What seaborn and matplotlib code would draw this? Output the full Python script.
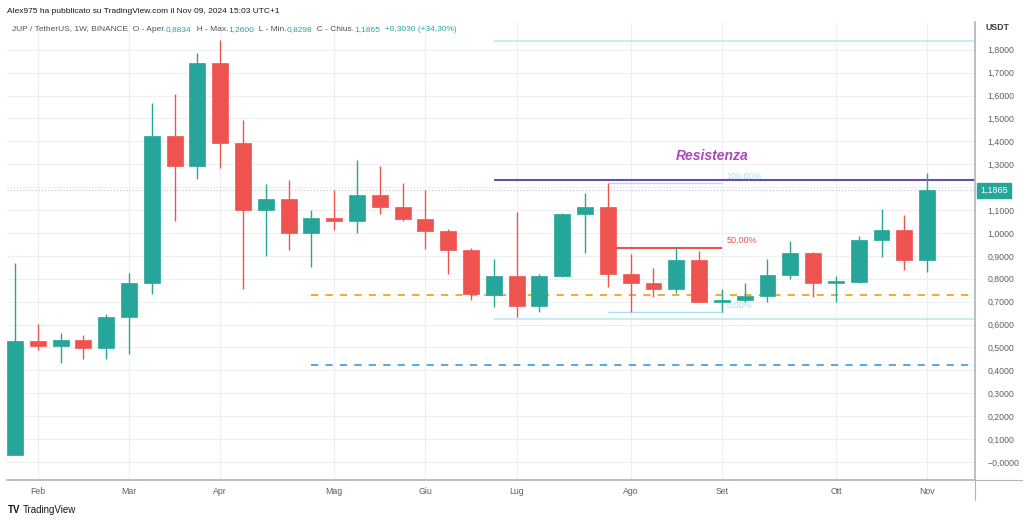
import matplotlib
matplotlib.use("Agg")
import matplotlib.pyplot as plt
import matplotlib.dates as mdates
from matplotlib.lines import Line2D
import numpy as np
import pandas as pd
import seaborn as sns

# weekly JUP/USDT candles
week_start = "2024-01-29"
opens = [0.032, 0.528, 0.505, 0.534, 0.498, 0.632, 0.782, 1.425, 1.293, 1.741,
         1.393, 1.099, 1.150, 1.000, 1.066, 1.054, 1.167, 1.114, 1.063, 1.010,
         0.926, 0.729, 0.812, 0.683, 0.812, 1.081, 1.112, 0.820, 0.780, 0.755,
         0.882, 0.699, 0.706, 0.725, 0.817, 0.911, 0.783, 0.787, 0.969, 1.012,
         0.8834]
highs = [0.869, 0.604, 0.565, 0.556, 0.646, 0.825, 1.568, 1.608, 1.787, 1.844,
         1.491, 1.215, 1.229, 1.099, 1.186, 1.320, 1.291, 1.220, 1.186, 1.016,
         0.936, 0.888, 1.090, 0.819, 1.089, 1.176, 1.217, 0.908, 0.846, 0.937,
         0.923, 0.755, 0.783, 0.888, 0.966, 0.917, 0.812, 0.987, 1.106, 1.077,
         1.2600]
lows = [0.032, 0.488, 0.432, 0.451, 0.451, 0.470, 0.735, 1.051, 1.237, 1.284,
        0.754, 0.898, 0.924, 0.850, 1.012, 1.000, 1.082, 1.052, 0.929, 0.820,
        0.706, 0.676, 0.634, 0.654, 0.806, 0.914, 0.763, 0.654, 0.719, 0.736,
        0.697, 0.655, 0.700, 0.700, 0.798, 0.719, 0.700, 0.783, 0.894, 0.838,
        0.8298]
closes = [0.528, 0.505, 0.534, 0.498, 0.632, 0.782, 1.425, 1.293, 1.741, 1.393,
          1.099, 1.150, 1.000, 1.066, 1.054, 1.167, 1.114, 1.063, 1.010, 0.926,
          0.735, 0.812, 0.683, 0.812, 1.081, 1.112, 0.820, 0.780, 0.755, 0.882,
          0.699, 0.706, 0.725, 0.817, 0.911, 0.783, 0.792, 0.969, 1.012, 0.8834,
          1.1865]

month_ticks = ["2024-02-05", "2024-03-04", "2024-04-01", "2024-05-06", "2024-06-03",
               "2024-07-01", "2024-08-05", "2024-09-02", "2024-10-07", "2024-11-04"]
month_labels = ["Feb", "Mar", "Apr", "Mag", "Giu", "Lug", "Ago", "Set", "Ott", "Nov"]
price_ticks = [round(0.1 * k, 1) for k in range(19)]

# drawn levels
resistance = 1.231
support_orange = 0.729
support_blue = 0.424
cyan_top = 1.840
cyan_low = 0.624
fib_levels = [1.217, 0.936, 0.654]
fib_labels = ["100,00%", "50,00%", "0,00%"]
last_price = 1.1865

GREEN = "#26a69a"
RED = "#ef5350"

sns.set_theme(style="white")
plt.rcParams["font.family"] = ["Liberation Sans", "DejaVu Sans"]

df = pd.DataFrame({"date": pd.date_range(week_start, periods=len(opens), freq="7D"),
                   "open": opens, "high": highs, "low": lows, "close": closes})
df["x"] = mdates.date2num(df["date"])
df["up"] = df["close"] >= df["open"]
df["color"] = np.where(df["up"], GREEN, RED)

fig = plt.figure(figsize=(10.24, 5.22), dpi=100)
ax = fig.add_axes([7 / 1024, 1 - 480 / 522, (975 - 7) / 1024, (480 - 22) / 522])

x0 = df["x"].iloc[0]
ax.set_xlim(x0 - 2.46, x0 + 294.7)
ax.set_ylim(-0.0786, 1.921)

# grid
for t in price_ticks:
    ax.axhline(t, color="#efefef", lw=0.8, zorder=0)
for m in month_ticks:
    ax.axvline(mdates.datestr2num(m), color="#efefef", lw=0.8, zorder=0)

# last price dotted line
ax.axhline(last_price, color="#c9ccd3", lw=0.9, ls=(0, (1, 1.5)), zorder=1)

# candles
ax.vlines(df["x"], df["low"], df["high"], colors=df["color"], lw=1.0, zorder=3)
body = (df["close"] - df["open"]).abs().clip(lower=0.006)
ax.bar(df["x"], body, bottom=np.minimum(df["open"], df["close"]), width=4.9,
       color=df["color"], edgecolor=df["color"], lw=0.5, zorder=4)

d = lambda s: mdates.datestr2num(s)
x_end = ax.get_xlim()[1]
# support/resistance levels
ax.hlines(support_orange, d("2024-04-29"), x_end, colors="#f7a21b", lw=1.3,
          linestyles=(0, (4, 4)), zorder=2)
ax.hlines(support_blue, d("2024-04-29"), x_end, colors="#4a9fe0", lw=1.3,
          linestyles=(0, (4, 4)), zorder=2)
ax.hlines(resistance, d("2024-06-24"), x_end, colors="#6a4caf", lw=1.5, zorder=2)
ax.hlines([cyan_top, cyan_low], d("2024-06-24"), x_end, colors="#bfe9ef", lw=1.2, zorder=2)
ax.text(d("2024-09-02") - 3, 1.336, "Resistenza", color="#ab47bc", fontsize=10,
        fontweight="bold", fontstyle="italic", ha="center", va="center")

# fib retracement
fib_colors = ["#a6e3ec", RED, "#a6e3ec"]
for lvl, lab, col in zip(fib_levels, fib_labels, fib_colors):
    ax.hlines(lvl, d("2024-07-29"), d("2024-09-02"), colors=col,
              lw=1.5 if col == RED else 1.0, zorder=2)
    ax.text(d("2024-09-02") + 1.5, lvl + 0.03, lab, color=col, fontsize=6.5,
            ha="left", va="center", zorder=1)
ax.vlines(d("2024-09-02"), fib_levels[2], 0.751, colors="#a6e3ec", lw=1.0, zorder=2)

# axes styling
for s in ["top", "left"]:
    ax.spines[s].set_visible(False)
ax.spines["right"].set_color("#b2b5be")
ax.spines["bottom"].set_color("#b2b5be")
ax.yaxis.tick_right()
ax.set_yticks(price_ticks)
ylabels = ["−0,0000" if t == 0 else f"{t:.4f}".replace(".", ",") for t in price_ticks]
ylabels[12] = ""  # hidden behind the last price tag
ax.set_yticklabels(ylabels)
ax.set_xticks([d(m) for m in month_ticks])
ax.set_xticklabels(month_labels)
ax.tick_params(axis="y", length=0, pad=9, labelsize=6.3, labelcolor="#5d606b")
ax.tick_params(axis="x", length=0, pad=5, labelsize=6.3, labelcolor="#5d606b")

# extended axis lines
fig.add_artist(Line2D([975 / 1024, 975 / 1024], [1 - 500 / 522, 1 - 480 / 522],
                      color="#b2b5be", lw=0.8))
fig.add_artist(Line2D([975 / 1024, 1022 / 1024], [1 - 480 / 522, 1 - 480 / 522],
                      color="#b2b5be", lw=0.8))

# price tag
ax.annotate("1,1865", xy=(1.0, last_price), xycoords=("axes fraction", "data"),
            xytext=(4, 0), textcoords="offset points", color="white", fontsize=6.5,
            va="center", ha="left",
            bbox=dict(boxstyle="square,pad=0.35", fc=GREEN, ec=GREEN))
fig.text(985 / 1024, 1 - 28 / 522, "USDT", fontsize=6.3, color="#3a3d46",
         fontweight="bold", va="center")

# header
fig.text(7 / 1024, 1 - 13 / 522, "Alex975 ha pubblicato su TradingView.com il Nov 09, 2024 15:03 UTC+1",
         fontsize=6.0, color="#131722", va="baseline")

pieces = [("JUP / TetherUS, 1W, BINANCE  O - Aper.", "#50535e"), ("0,8834", GREEN),
          ("  H - Max.", "#50535e"), ("1,2600", GREEN), ("  L - Min.", "#50535e"),
          ("0,8298", GREEN), ("  C - Chius.", "#50535e"), ("1,1865", GREEN),
          ("  +0,3030 (+34,30%)", GREEN)]
fig.canvas.draw()
renderer = fig.canvas.get_renderer()
xpos = 12 / 1024
for txt, col in pieces:
    t = fig.text(xpos, 1 - 31 / 522, txt, fontsize=6.0, color=col, va="baseline")
    bb = t.get_window_extent(renderer)
    xpos += bb.width / fig.bbox.width

# footer
fig.text(8 / 1024, 1 - 510 / 522, "TV", fontsize=7, fontweight="bold", color="#131722", va="center")
fig.text(23 / 1024, 1 - 510 / 522, "TradingView", fontsize=7, color="#131722", va="center")

fig.savefig("out.png", dpi=100)
